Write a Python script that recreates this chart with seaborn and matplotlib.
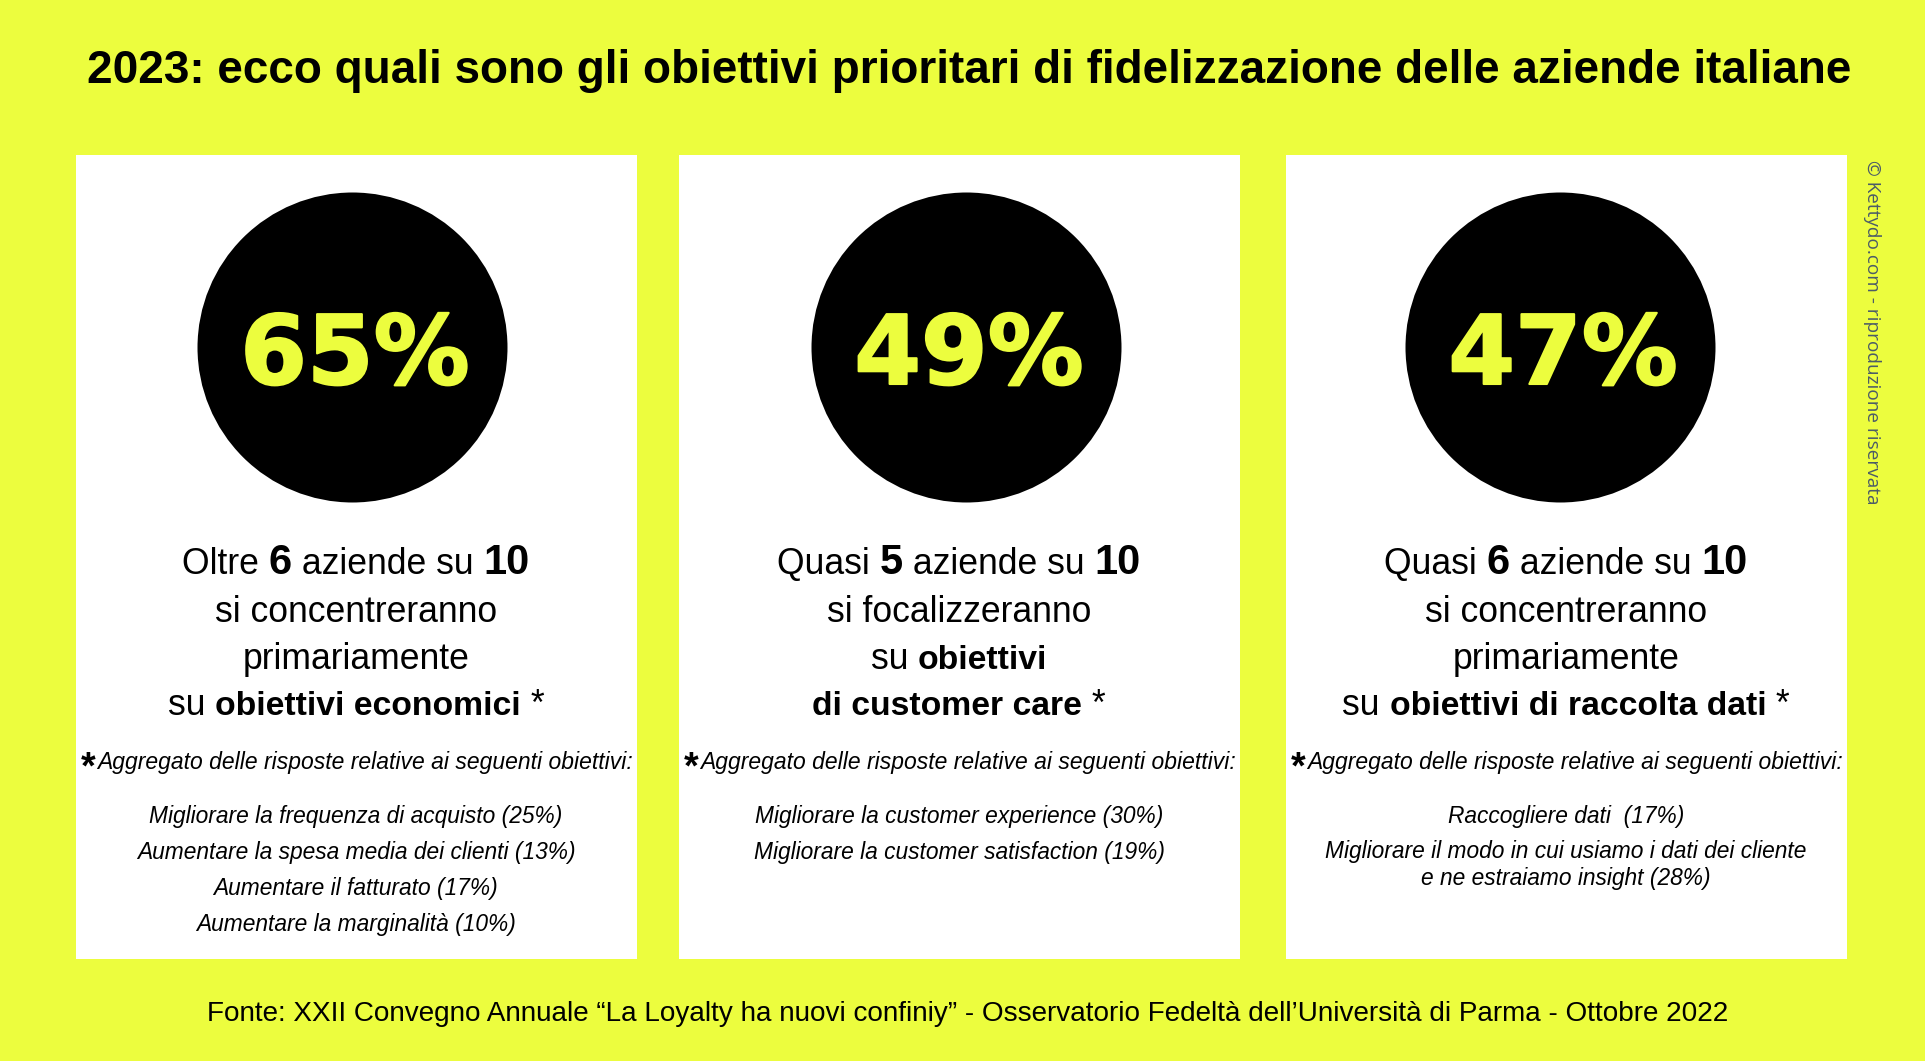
#!/usr/bin/env python3
import matplotlib
matplotlib.use('Agg')
import matplotlib.pyplot as plt
import matplotlib.patheffects as pe
from matplotlib.patches import Rectangle
import seaborn as sns

YELLOW = '#ECFD3E'

title = '2023: ecco quali sono gli obiettivi prioritari di fidelizzazione delle aziende italiane'
footer = 'Fonte: XXII Convegno Annuale “La Loyalty ha nuovi confiniy” - Osservatorio Fedeltà dell’Università di Parma - Ottobre 2022'
credit = '© Kettydo.com - riproduzione riservata'
note = 'Aggregato delle risposte relative ai seguenti obiettivi:'

percent_values = [65, 49, 47]

# testo delle card: (testo, stile) per ogni riga
headline_1 = [
    [('Oltre ', 'r'), ('6', 'n'), (' aziende su ', 'r'), ('10', 'n')],
    [('si concentreranno', 'r')],
    [('primariamente', 'r')],
    [('su ', 'r'), ('obiettivi economici', 'b'), (' *', 'r')],
]
headline_2 = [
    [('Quasi ', 'r'), ('5', 'n'), (' aziende su ', 'r'), ('10', 'n')],
    [('si focalizzeranno', 'r')],
    [('su ', 'r'), ('obiettivi', 'b')],
    [('di customer care', 'b'), (' *', 'r')],
]
headline_3 = [
    [('Quasi ', 'r'), ('6', 'n'), (' aziende su ', 'r'), ('10', 'n')],
    [('si concentreranno', 'r')],
    [('primariamente', 'r')],
    [('su ', 'r'), ('obiettivi di raccolta dati', 'b'), (' *', 'r')],
]
headlines = [headline_1, headline_2, headline_3]

goals_1 = ['Migliorare la frequenza di acquisto', 'Aumentare la spesa media dei clienti',
           'Aumentare il fatturato', 'Aumentare la marginalità']
goal_values_1 = [25, 13, 17, 10]
goals_2 = ['Migliorare la customer experience', 'Migliorare la customer satisfaction']
goal_values_2 = [30, 19]
goals_3 = ['Raccogliere dati ', 'Migliorare il modo in cui usiamo i dati dei cliente\ne ne estraiamo insight']
goal_values_3 = [17, 28]
goals = [goals_1, goals_2, goals_3]
goal_values = [goal_values_1, goal_values_2, goal_values_3]

# layout in pixel
card_left = [76, 679, 1286]
card_w = 561
card_top, card_bottom = 155, 959
circle_x = [352, 966, 1560]
circle_y = 346.5
text_x = [356, 959, 1566]
head_y = [574, 622, 669, 715]
note_star_x = [81, 684, 1291]
note_x = [97, 700, 1307]
goal_y = {1: [817, 853, 888, 924], 2: [817, 853], 3: [817, 865]}

STYLES = {
    'r': dict(fontweight='normal', fontsize=25.6),
    'b': dict(fontweight='bold', fontsize=24.3),
    'n': dict(fontweight='bold', fontsize=30),
}

sns.set_theme(style='white')
plt.rcParams['font.family'] = ['Liberation Sans', 'DejaVu Sans']

fig = plt.figure(figsize=(19.25, 10.61), dpi=100, facecolor=YELLOW)
ax = fig.add_axes([0, 0, 1, 1])
ax.set_xlim(0, 1925)
ax.set_ylim(1061, 0)
ax.axis('off')
renderer = fig.canvas.get_renderer()


def draw_runs(cx, y, runs):
    """Riga centrata con pezzi in stili diversi, sulla stessa baseline"""
    items = [ax.text(0, y, txt, va='baseline', ha='left', color='black', **STYLES[st]) for txt, st in runs]
    widths = []
    for (txt, st), item in zip(runs, items):
        # misura anche gli spazi a inizio/fine riga
        probe = ax.text(0, y, '|' + txt + '|', **STYLES[st])
        bar = ax.text(0, y, '||', **STYLES[st])
        widths.append(probe.get_window_extent(renderer).width - bar.get_window_extent(renderer).width)
        probe.remove()
        bar.remove()
    x = cx - sum(widths) / 2
    for item, w in zip(items, widths):
        item.set_x(x)
        x += w


for left in card_left:
    ax.add_patch(Rectangle((left, card_top), card_w, card_bottom - card_top, facecolor='white', edgecolor='none', zorder=1))

sns.scatterplot(x=circle_x, y=[circle_y] * 3, s=49818, color='black', linewidth=0, legend=False, ax=ax, zorder=2)

ax.text(969, 71, title, ha='center', va='center', fontsize=33, fontweight='bold', color='black')
ax.text(968, 1014, footer, ha='center', va='center', fontsize=20.1, color='black')
ax.text(1872, 160, credit, ha='center', va='top', rotation=-90, fontsize=13.7, color='#4B5B68', family='Open Sans')

for i, pct in enumerate(percent_values):
    ax.text(circle_x[i] + 3, circle_y + 1, f'{pct}%', ha='center', va='center_baseline', fontsize=69,
            fontweight='bold', color=YELLOW, family='DejaVu Sans', zorder=3,
            path_effects=[pe.withStroke(linewidth=1.5, foreground=YELLOW)])
    for y, runs in zip(head_y, headlines[i]):
        draw_runs(text_x[i], y, runs)
    ax.text(note_star_x[i], 768, '*', ha='left', va='center', fontsize=27, fontweight='bold', color='black')
    ax.text(note_x[i], 762, note, ha='left', va='center', fontsize=16.5, style='italic', color='black')
    for y, goal, val in zip(goal_y[i + 1], goals[i], goal_values[i]):
        ax.text(text_x[i], y, f'{goal} ({val}%)', ha='center', va='center', fontsize=16.4, style='italic',
                color='black', linespacing=1.2)

fig.savefig('out.png', dpi=100, facecolor=YELLOW)
